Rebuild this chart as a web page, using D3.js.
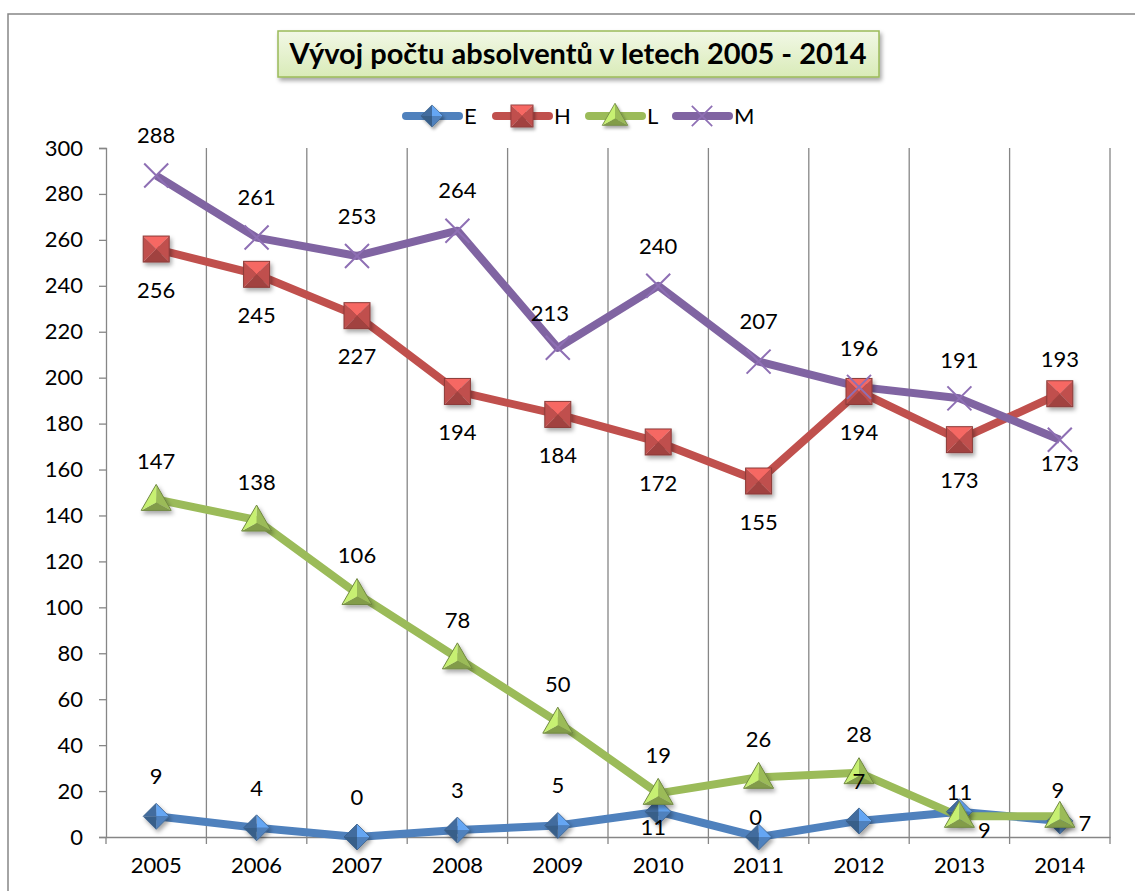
<!DOCTYPE html>
<html>
<head>
<meta charset="utf-8">
<script src="https://d3js.org/d3.v7.min.js"></script>
<style>
  body { margin: 0; background: #fff; }
  svg { display: block; font-family: Lato, "Open Sans", sans-serif; }
</style>
</head>
<body>
<svg width="1135" height="891"></svg>
<script>
// data
var years = ["2005", "2006", "2007", "2008", "2009", "2010", "2011", "2012", "2013", "2014"];
var seriesE = [9, 4, 0, 3, 5, 11, 0, 7, 11, 7];
var seriesH = [256, 245, 227, 194, 184, 172, 155, 194, 173, 193];
var seriesL = [147, 138, 106, 78, 50, 19, 26, 28, 9, 9];
var seriesM = [288, 261, 253, 264, 213, 240, 207, 196, 191, 173];
var yTicks = [0, 20, 40, 60, 80, 100, 120, 140, 160, 180, 200, 220, 240, 260, 280, 300];
var title = "Vývoj počtu absolventů v letech 2005 - 2014";

// where each data label sits relative to its point (dx, dy)
var labelPosE = [[0,-40],[0,-40],[0,-40],[0,-40],[0,-40],[-5,16],[-3,-20],[0,-40],[0,-19],[25,2]];
var labelPosH = [[0,41],[0,41],[0,41],[0,41],[0,41],[0,41],[0,41],[0,41],[0,41],[0,-34]];
var labelPosL = [[0,-38],[0,-38],[0,-38],[0,-38],[0,-38],[0,-38],[0,-38],[0,-38],[25,14],[-2,-26]];
var labelPosM = [[0,-40],[0,-40],[0,-40],[0,-40],[-8,-35],[0,-40],[0,-40],[0,-39],[0,-38],[0,24]];

var series = [
  {name: "E", values: seriesE, color: "#4f81bd", marker: "diamond", pos: labelPosE},
  {name: "H", values: seriesH, color: "#c0504d", marker: "square", pos: labelPosH},
  {name: "L", values: seriesL, color: "#9bbb59", marker: "triangle", pos: labelPosL},
  {name: "M", values: seriesM, color: "#8064a2", marker: "cross", pos: labelPosM}
];

// plot area
var margin = {top: 148, right: 25, bottom: 54, left: 106},
    width = 1135 - margin.left - margin.right,
    height = 891 - margin.top - margin.bottom;

var svg = d3.select("svg");

var defs = svg.append("defs");
var shadow = defs.append("filter").attr("id", "shadow")
    .attr("x", "-50%").attr("y", "-50%").attr("width", "200%").attr("height", "200%");
shadow.append("feDropShadow")
    .attr("dx", 2).attr("dy", 3).attr("stdDeviation", 2)
    .attr("flood-color", "#000").attr("flood-opacity", 0.35);

var titleGrad = defs.append("linearGradient").attr("id", "titleGrad")
    .attr("x1", 0).attr("y1", 0).attr("x2", 0).attr("y2", 1);
titleGrad.append("stop").attr("offset", "0%").attr("stop-color", "#f2f8e6");
titleGrad.append("stop").attr("offset", "100%").attr("stop-color", "#d9ebb8");

// outer chart border
svg.append("rect")
    .attr("x", 8).attr("y", 14)
    .attr("width", 1200).attr("height", 1000)
    .attr("fill", "none")
    .attr("stroke", "#868686")
    .attr("stroke-width", 1.5);

// title box
svg.append("rect")
    .attr("x", 278).attr("y", 31)
    .attr("width", 601).attr("height", 46)
    .attr("fill", "url(#titleGrad)")
    .attr("stroke", "#9bbb59")
    .attr("stroke-width", 1.5)
    .attr("filter", "url(#shadow)");
svg.append("text")
    .attr("x", 578).attr("y", 64)
    .attr("text-anchor", "middle")
    .style("font-size", "29px")
    .style("font-weight", "bold")
    .text(title);

var x = d3.scaleBand().domain(years).range([0, width]);
var y = d3.scaleLinear().domain([0, 300]).range([height, 0]);

var g = svg.append("g")
    .attr("transform", "translate(" + margin.left + "," + margin.top + ")");

// vertical gridlines at category boundaries
g.append("g")
  .selectAll("line")
  .data(years.slice(1).concat(["end"]))
  .join("line")
    .attr("x1", function(d, i) { return x.step() * (i + 1); })
    .attr("x2", function(d, i) { return x.step() * (i + 1); })
    .attr("y1", 0).attr("y2", height)
    .attr("stroke", "#868686")
    .attr("stroke-width", 1.3);

// y axis
var yAxis = g.append("g")
    .call(d3.axisLeft(y).tickValues(yTicks).tickSize(7).tickPadding(16));
yAxis.select(".domain").attr("stroke", "#868686").attr("stroke-width", 1.3);
yAxis.selectAll(".tick line").attr("stroke", "#868686").attr("stroke-width", 1.3);
yAxis.selectAll("text").style("font-size", "22px").style("font-family", "Lato, sans-serif").attr("fill", "#000");

// x axis, ticks between categories
var xAxis = g.append("g")
    .attr("transform", "translate(0," + height + ")")
    .call(d3.axisBottom(x).tickSize(0).tickPadding(20));
xAxis.select(".domain").attr("stroke", "#868686").attr("stroke-width", 1.3);
xAxis.selectAll("text").style("font-size", "22px").style("font-family", "Lato, sans-serif").attr("fill", "#000");
xAxis.selectAll(".tickmark")
  .data(d3.range(years.length + 1))
  .join("line")
    .attr("class", "tickmark")
    .attr("x1", function(d) { return d * x.step(); })
    .attr("x2", function(d) { return d * x.step(); })
    .attr("y1", 0).attr("y2", 7)
    .attr("stroke", "#868686")
    .attr("stroke-width", 1.3);

var cx = function(i) { return x(years[i]) + x.bandwidth() / 2; };

// bevelled markers
function drawMarker(sel, type, color) {
  var c = d3.color(color);
  var light = c.brighter(0.7).formatHex(),
      mid = c.formatHex(),
      dark = c.darker(0.5).formatHex(),
      darker = c.darker(0.9).formatHex();
  var m = sel.append("g").attr("filter", type == "cross" ? null : "url(#shadow)");
  if (type == "square") {
    var s = 13;
    var pts = [[-s,-s],[s,-s],[s,s],[-s,s]];
    var fills = [light, mid, dark, mid];
    for (var k = 0; k < 4; k++) {
      var a = pts[k], b = pts[(k + 1) % 4];
      m.append("path").attr("d", "M0,0L" + a + "L" + b + "Z").attr("fill", fills[k]);
    }
    m.append("rect").attr("x", -s).attr("y", -s).attr("width", 2 * s).attr("height", 2 * s)
      .attr("fill", "none").attr("stroke", darker).attr("stroke-width", 1);
  } else if (type == "diamond") {
    var r = 13;
    var dp = [[0,-r],[r,0],[0,r],[-r,0]];
    var df = [light, mid, darker, dark];
    for (var k = 0; k < 4; k++) {
      var a = dp[k], b = dp[(k + 1) % 4];
      m.append("path").attr("d", "M0,0L" + a + "L" + b + "Z").attr("fill", df[k]);
    }
    m.append("path").attr("d", "M0,-13L13,0L0,13L-13,0Z")
      .attr("fill", "none").attr("stroke", darker).attr("stroke-width", 0.8);
  } else if (type == "triangle") {
    var tp = [[0,-15],[15,11],[-15,11]];
    var tf = [mid, dark, light];
    for (var k = 0; k < 3; k++) {
      var a = tp[k], b = tp[(k + 1) % 3];
      m.append("path").attr("d", "M0,3L" + a + "L" + b + "Z").attr("fill", tf[k]);
    }
    m.append("path").attr("d", "M0,-15L15,11L-15,11Z")
      .attr("fill", "none").attr("stroke", darker).attr("stroke-width", 1);
  } else {
    m.append("path").attr("d", "M-12,-12L12,12M-12,12L12,-12")
      .attr("stroke", c.brighter(0.3).formatHex()).attr("stroke-width", 2);
  }
}

var line = d3.line()
    .x(function(d, i) { return cx(i); })
    .y(function(d) { return y(d); });

// lines first, then markers, then labels
series.forEach(function(s) {
  g.append("path")
    .datum(s.values)
    .attr("d", line)
    .attr("fill", "none")
    .attr("stroke", s.color)
    .attr("stroke-width", 8)
    .attr("stroke-linejoin", "round");
});

series.forEach(function(s) {
  s.values.forEach(function(v, i) {
    var mk = g.append("g").attr("transform", "translate(" + cx(i) + "," + y(v) + ")");
    drawMarker(mk, s.marker, s.color);
  });
});

series.forEach(function(s) {
  g.append("g")
    .selectAll("text")
    .data(s.values)
    .join("text")
      .attr("x", function(d, i) { return cx(i) + s.pos[i][0]; })
      .attr("y", function(d, i) { return y(d) + s.pos[i][1]; })
      .attr("dy", "0.35em")
      .attr("text-anchor", "middle")
      .style("font-size", "22px")
      .text(function(d) { return d; });
});

// legend
var legend = svg.append("g").attr("transform", "translate(403,116)");
var legendX = [0, 90, 183, 270];
series.forEach(function(s, i) {
  var item = legend.append("g").attr("transform", "translate(" + legendX[i] + ",0)");
  item.append("line")
    .attr("x1", 3).attr("x2", 56)
    .attr("stroke", s.color)
    .attr("stroke-width", 8)
    .attr("stroke-linecap", "round");
  var mk = item.append("g").attr("transform", "translate(29,0) scale(0.85)");
  drawMarker(mk, s.marker, s.color);
  item.append("text")
    .attr("x", 61).attr("dy", "0.35em")
    .style("font-size", "22px")
    .text(s.name);
});
</script>
</body>
</html>
